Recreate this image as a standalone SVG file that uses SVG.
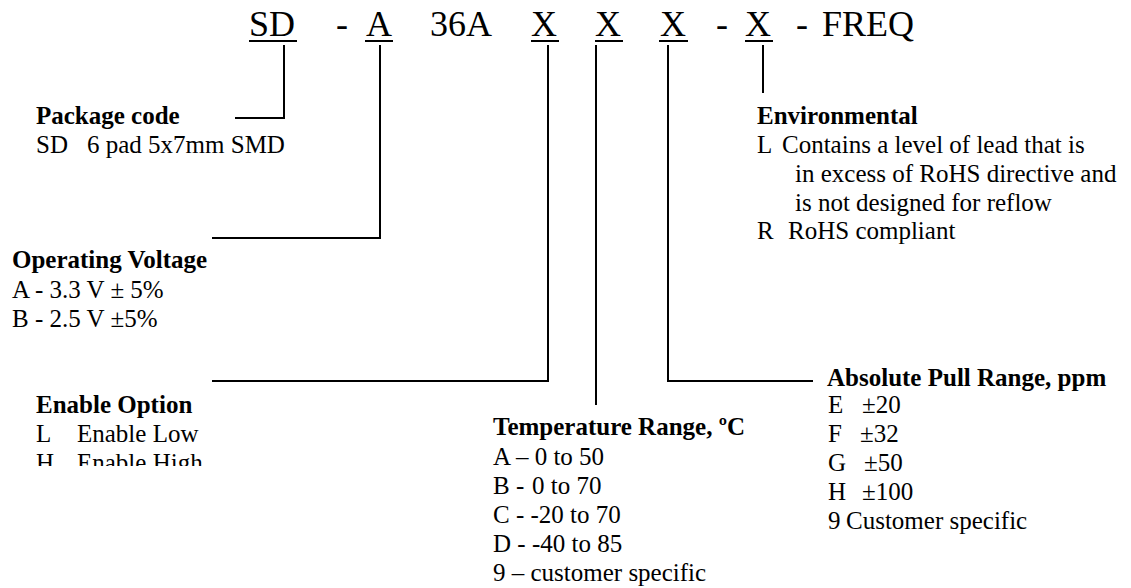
<svg xmlns="http://www.w3.org/2000/svg" width="1131" height="588" viewBox="0 0 1131 588">
<style>
text{font-family:"Liberation Serif","Times New Roman",serif;fill:#000}
.h{font-size:36px}
.t{font-size:25px}
.b{font-size:25px;font-weight:bold}
.ln{stroke:#000;stroke-width:2;fill:none}
</style>
<defs>
<clipPath id="clipEn"><rect x="0" y="380" width="300" height="86"/></clipPath>
</defs>
<rect width="1131" height="588" fill="#fff"/>
<g id="header">
<text class="h" x="249" y="36">SD</text>
<text class="h" x="336" y="36">-</text>
<text class="h" x="366" y="36">A</text>
<text class="h" x="430" y="36">36A</text>
<text class="h" x="531" y="36">X</text>
<text class="h" x="595" y="36">X</text>
<text class="h" x="660" y="36">X</text>
<text class="h" x="716" y="36">-</text>
<text class="h" x="745" y="36">X</text>
<text class="h" x="796" y="36">-</text>
<text class="h" x="822" y="36">FREQ</text>
<g class="ln">
<line x1="249" y1="41" x2="297" y2="41"/>
<line x1="365" y1="41" x2="393" y2="41"/>
<line x1="531" y1="41" x2="559" y2="41"/>
<line x1="595" y1="41" x2="623" y2="41"/>
<line x1="659" y1="41" x2="688" y2="41"/>
<line x1="745" y1="41" x2="773" y2="41"/>
</g>
</g>
<g id="connectors" class="ln">
<polyline points="284,45 284,118 235,118"/>
<polyline points="380,45 380,238 212,238"/>
<polyline points="548,45 548,381 212,381"/>
<line x1="596" y1="45" x2="596" y2="405"/>
<polyline points="668,45 668,381 813,381"/>
<line x1="763" y1="45" x2="763" y2="93"/>
</g>
<g id="package">
<text class="b" x="36" y="124">Package code</text>
<text class="t" y="153"><tspan x="36">SD</tspan><tspan x="87">6 pad 5x7mm SMD</tspan></text>
</g>
<g id="voltage">
<text class="b" x="12" y="268">Operating Voltage</text>
<text class="t" x="12" y="298">A - 3.3 V ± 5%</text>
<text class="t" y="327"><tspan x="12">B</tspan><tspan x="35">- 2.5 V ±5%</tspan></text>
</g>
<g id="enable" clip-path="url(#clipEn)">
<text class="b" x="36" y="413">Enable Option</text>
<text class="t" y="442"><tspan x="36">L</tspan><tspan x="77">Enable Low</tspan></text>
<text class="t" y="471"><tspan x="36">H</tspan><tspan x="77">Enable High</tspan></text>
</g>
<g id="temperature">
<text class="b" x="493" y="435">Temperature Range, ºC</text>
<text class="t" x="493" y="465">A – 0 to 50</text>
<text class="t" y="494"><tspan x="493">B -</tspan><tspan x="532">0 to 70</tspan></text>
<text class="t" x="493" y="523">C - -20 to 70</text>
<text class="t" x="493" y="552">D - -40 to 85</text>
<text class="t" x="493" y="581">9 – customer specific</text>
</g>
<g id="environmental">
<text class="b" x="757" y="124">Environmental</text>
<text class="t" y="153"><tspan x="757">L</tspan><tspan x="782">Contains a level of lead that is</tspan></text>
<text class="t" x="795" y="182">in excess of RoHS directive and</text>
<text class="t" x="795" y="211">is not designed for reflow</text>
<text class="t" y="239"><tspan x="757">R</tspan><tspan x="788">RoHS compliant</tspan></text>
</g>
<g id="pull">
<text class="b" x="827" y="386">Absolute Pull Range, ppm</text>
<text class="t" y="413"><tspan x="828">E</tspan><tspan x="862">±20</tspan></text>
<text class="t" y="442"><tspan x="828">F</tspan><tspan x="860">±32</tspan></text>
<text class="t" y="471"><tspan x="828">G</tspan><tspan x="864">±50</tspan></text>
<text class="t" y="500"><tspan x="828">H</tspan><tspan x="862">±100</tspan></text>
<text class="t" y="529"><tspan x="828">9</tspan><tspan x="846">Customer specific</tspan></text>
</g>
</svg>
